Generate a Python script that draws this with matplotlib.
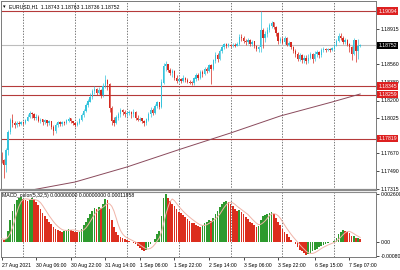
import matplotlib
matplotlib.use("Agg")
import matplotlib.pyplot as plt
import matplotlib.transforms as mtransforms
import numpy as np
import pandas as pd

# EURUSD H1 bars, 27 Aug 2021 14:00 .. 7 Sep 2021 12:00 (open = previous close)
first_open = 1.1765
closes = [
    1.1760, 1.1755, 1.1770, 1.1788, 1.1800, 1.1797, 1.1795, 1.1797, 1.1796, 1.1798,
    1.1797, 1.1800, 1.1804, 1.1807, 1.1806, 1.1803, 1.1804, 1.1800, 1.1801, 1.1798,
    1.1800, 1.1797, 1.1799, 1.1793, 1.1789, 1.1795, 1.1798, 1.1796, 1.1798, 1.1797,
    1.1800, 1.1802, 1.1799, 1.1797, 1.1795, 1.1797, 1.1801, 1.1805, 1.1809, 1.1815,
    1.1819, 1.1824, 1.1829, 1.1831, 1.1827, 1.1830, 1.1825, 1.1834, 1.1840, 1.1836,
    1.1812, 1.1800, 1.1797, 1.1803, 1.1806, 1.1810, 1.1808, 1.1806, 1.1807, 1.1808,
    1.1806, 1.1808, 1.1803, 1.1801, 1.1802, 1.1799, 1.1797, 1.1801, 1.1806, 1.1810,
    1.1807, 1.1814, 1.1818, 1.1813, 1.1838, 1.1854, 1.1856, 1.1850, 1.1847, 1.1849,
    1.1843, 1.1840, 1.1842, 1.1840, 1.1843, 1.1841, 1.1839, 1.1838, 1.1837, 1.1842,
    1.1845, 1.1843, 1.1848, 1.1846, 1.1851, 1.1849, 1.1855, 1.1851, 1.1860, 1.1865,
    1.1862, 1.1869, 1.1873, 1.1876, 1.1874, 1.1876, 1.1875, 1.1876, 1.1875, 1.1877,
    1.1884, 1.1883, 1.1880, 1.1879, 1.1881, 1.1877, 1.1879, 1.1874, 1.1871, 1.1873,
    1.1890, 1.1883, 1.1886, 1.1890, 1.1895, 1.1898, 1.1893, 1.1887, 1.1880, 1.1882,
    1.1879, 1.1883, 1.1876, 1.1878, 1.1873, 1.1869, 1.1866, 1.1862, 1.1865, 1.1861,
    1.1863, 1.1860, 1.1863, 1.1866, 1.1862, 1.1866, 1.1868, 1.1865, 1.1870, 1.1871,
    1.1870, 1.1871, 1.1870, 1.1872, 1.1875, 1.1880, 1.1885, 1.1883, 1.1879, 1.1881,
    1.1876, 1.1873, 1.1866, 1.1880, 1.1869, 1.18743, 1.18752,
]
highs = [
    1.1768, 1.1762, 1.1772, 1.1790, 1.1803, 1.1806, 1.1799, 1.1799, 1.1799, 1.1800,
    1.1799, 1.1802, 1.1806, 1.1809, 1.1808, 1.1807, 1.1806, 1.1805, 1.1803, 1.1802,
    1.1802, 1.1801, 1.1801, 1.1800, 1.1795, 1.1797, 1.1800, 1.1800, 1.1800, 1.1799,
    1.1802, 1.1804, 1.1803, 1.1800, 1.1798, 1.1799, 1.1803, 1.1807, 1.1811, 1.1817,
    1.1822, 1.1827, 1.1831, 1.1834, 1.1832, 1.1833, 1.1831, 1.1837, 1.1845, 1.1842,
    1.1838, 1.1814, 1.1804, 1.1805, 1.1808, 1.1812, 1.1811, 1.1810, 1.1809, 1.1810,
    1.1809, 1.1811, 1.1809, 1.1805, 1.1804, 1.1803, 1.1801, 1.1803, 1.1808, 1.1813,
    1.1812, 1.1816, 1.1820, 1.1819, 1.1842, 1.1858, 1.1860, 1.1857, 1.1852, 1.1851,
    1.1850, 1.1845, 1.1844, 1.1843, 1.1845, 1.1844, 1.1843, 1.1841, 1.1840, 1.1844,
    1.1847, 1.1847, 1.1850, 1.1850, 1.1853, 1.1853, 1.1857, 1.1857, 1.1862, 1.1868,
    1.1867, 1.1871, 1.1876, 1.1878, 1.1878, 1.1878, 1.1877, 1.1878, 1.1878, 1.1879,
    1.1886, 1.1886, 1.1885, 1.1882, 1.1883, 1.1882, 1.1881, 1.1880, 1.1876, 1.1875,
    1.1909, 1.1892, 1.1889, 1.1893, 1.1898, 1.1900, 1.1899, 1.1895, 1.1888, 1.1884,
    1.1884, 1.1885, 1.1884, 1.1880, 1.1879, 1.1874, 1.1871, 1.1868, 1.1867, 1.1866,
    1.1865, 1.1865, 1.1866, 1.1868, 1.1867, 1.1869, 1.1870, 1.1869, 1.1872, 1.1873,
    1.1872, 1.1872, 1.1872, 1.1873, 1.1877, 1.1882, 1.1887, 1.1887, 1.1885, 1.1883,
    1.1882, 1.1878, 1.1875, 1.1883, 1.1881, 1.1882, 1.18763,
]
lows = [
    1.1757, 1.1742, 1.1748, 1.1765, 1.1786, 1.1793, 1.1792, 1.1793, 1.1794, 1.1795,
    1.1795, 1.1796, 1.1799, 1.1803, 1.1803, 1.1801, 1.1801, 1.1798, 1.1797, 1.1795,
    1.1796, 1.1794, 1.1795, 1.1791, 1.1785, 1.1787, 1.1793, 1.1794, 1.1794, 1.1795,
    1.1796, 1.1798, 1.1797, 1.1795, 1.1793, 1.1794, 1.1796, 1.1800, 1.1804, 1.1808,
    1.1813, 1.1818, 1.1822, 1.1826, 1.1825, 1.1826, 1.1823, 1.1824, 1.1832, 1.1830,
    1.1808, 1.1795, 1.1794, 1.1796, 1.1801, 1.1804, 1.1805, 1.1804, 1.1804, 1.1805,
    1.1803, 1.1804, 1.1801, 1.1799, 1.1799, 1.1797, 1.1794, 1.1795, 1.1800, 1.1804,
    1.1805, 1.1806, 1.1812, 1.1811, 1.1812, 1.1836, 1.1849, 1.1848, 1.1845, 1.1844,
    1.1841, 1.1838, 1.1839, 1.1838, 1.1839, 1.1839, 1.1837, 1.1836, 1.1835, 1.1835,
    1.1840, 1.1841, 1.1842, 1.1844, 1.1845, 1.1847, 1.1848, 1.1836, 1.1850, 1.1858,
    1.1859, 1.1861, 1.1867, 1.1871, 1.1872, 1.1873, 1.1873, 1.1873, 1.1873, 1.1874,
    1.1876, 1.1880, 1.1878, 1.1876, 1.1877, 1.1875, 1.1875, 1.1872, 1.1869, 1.1868,
    1.1868, 1.1872, 1.1879, 1.1884, 1.1888, 1.1892, 1.1891, 1.1885, 1.1877, 1.1878,
    1.1877, 1.1877, 1.1874, 1.1874, 1.1871, 1.1867, 1.1864, 1.1860, 1.1860, 1.1858,
    1.1858, 1.1856, 1.1858, 1.1862, 1.1858, 1.1860, 1.1864, 1.1863, 1.1864, 1.1868,
    1.1868, 1.1869, 1.1868, 1.1869, 1.1870, 1.1874, 1.1879, 1.1881, 1.1877, 1.1877,
    1.1874, 1.1868, 1.1861, 1.1865, 1.1859, 1.1862, 1.18736,
]

# MACD_color(5,32,5) main value, in units of 1e-4
macd_e4 = [
    1.5, 1.0, 1.5, 6, 12, 17, 21, 23, 24, 24.5,
    23.5, 23, 22.5, 23, 24, 23.5, 22, 20, 18, 16,
    14, 12.5, 11, 9.5, 8, 7, 6.5, 6, 5.5, 6,
    6.5, 7, 6.5, 6, 5.5, 5, 5.5, 7, 9, 11,
    13, 15, 17, 18.5, 18, 19, 18.5, 21, 23.5, 23,
    18, 12, 8, 5, 3.5, 2.5, 2, 1.5, 1, 0.5,
    -0.5, -1, -1.5, -2.5, -3.5, -4.5, -5.3, -4.5, -3, -1.5,
    0, 1.5, 4, 6, 14, 24, 26, 24, 22.5, 21,
    19.5, 18, 16.5, 15.5, 14.5, 13.5, 12.5, 11.5, 10.5, 10,
    9, 8.5, 8, 9, 10, 11, 12, 11.5, 13, 15,
    17, 19, 21, 22, 22.5, 22, 21, 19.5, 18, 17,
    17.5, 16.5, 15, 13.5, 12.5, 11, 10, 9, 8, 8.5,
    12, 14, 14.5, 15, 16, 16.5, 15, 13, 11, 9,
    7, 5.5, 4, 2.5, 1, -0.5, -1.5, -3, -4.5, -5.5,
    -6.5, -7.5, -7, -6.5, -5.5, -4.5, -4, -3, -2.5, -2,
    -1.5, -1, -0.5, 0, 0.5, 2, 4, 5.5, 6.5, 6,
    5.5, 4.5, 3, 3, 2, 2, 1.19,
]

# long moving average read at a few bars
ma_bars = [0, 14, 34, 58, 83, 106, 129, 153, 166]
ma_vals = [1.1725, 1.17305, 1.17385, 1.17535, 1.17715, 1.17875, 1.18045, 1.18185, 1.18265]

red_levels = [1.19094, 1.18345, 1.18259, 1.17819]
last_price = 1.18752
price_ticks = [1.17315, 1.17490, 1.17670, 1.18025, 1.18200, 1.18380, 1.18560, 1.18915]

day_starts = [10, 34, 58, 82, 106, 130, 154]
label_bars = [0, 16, 32, 48, 64, 80, 96, 112, 128, 145, 161]
label_texts = ["27 Aug 2021", "30 Aug 06:00", "30 Aug 22:00", "31 Aug 14:00", "1 Sep 06:00",
               "1 Sep 22:00", "2 Sep 14:00", "3 Sep 06:00", "3 Sep 22:00", "6 Sep 15:00",
               "7 Sep 07:00"]

header = "EURUSD,H1  1.18743 1.18763 1.18736 1.18752"
macd_header = "MACD_color(5,32,5) 0.00000000 0.00000000 0.00011858"

W, H = 400, 270
FS = 3.7
FONT = "Liberation Sans"
BULL = "#35c3dc"
BEAR = "#d42a20"


def px_box(l, t, r, b):
    return [l / W, 1 - b / H, (r - l) / W, (b - t) / H]


c = np.array(closes)
o = np.concatenate([[first_open], c[:-1]])
hi = np.maximum(np.array(highs), np.maximum(o, c))
lo = np.minimum(np.array(lows), np.minimum(o, c))
x = np.arange(len(c))
up = c >= o

fig = plt.figure(figsize=(W / 100, H / 100), dpi=100)
fig.patch.set_facecolor("white")

ax = fig.add_axes(px_box(1, 1, 376, 190))
ax2 = fig.add_axes(px_box(1, 192, 376, 257), sharex=ax)
xl = ((1 - 1.6) / 2.16, (376 - 1.6) / 2.16)

# main chart
for d in day_starts:
    ax.axvline(d, color="#444444", lw=0.5, ls=(0, (2, 2)), zorder=1)
    ax2.axvline(d, color="#444444", lw=0.5, ls=(0, (2, 2)), zorder=1)
for lv in red_levels:
    ax.axhline(lv, color="#b53a3a", lw=0.8, zorder=1.5)
ax.axhline(last_price, color="#bdbdbd", lw=0.8, zorder=1.4)
ax.plot(ma_bars, ma_vals, color="#8a4a5c", lw=0.7, zorder=1.6)

cols = np.where(up, BULL, BEAR)
ax.vlines(x, lo, hi, colors=cols, lw=0.5, zorder=2)
body = np.maximum(np.abs(c - o), 0.00002)
ax.bar(x, body, bottom=np.minimum(o, c), width=0.62, color=cols, lw=0, zorder=2.1)

ax.set_xlim(*xl)
ax.set_ylim(1.17305, 1.19195)
ax.yaxis.tick_right()
ax.set_yticks(price_ticks)
ax.set_yticklabels(["%.5f" % v for v in price_ticks], fontsize=FS, family=FONT)
ax.tick_params(axis="y", length=2, width=0.5, pad=1.5, colors="black")
ax.tick_params(axis="x", bottom=False, labelbottom=False)
for s in ["left", "top", "right"]:
    ax.spines[s].set_color("#7a7a7a")
    ax.spines[s].set_linewidth(0.7)
ax.spines["bottom"].set_color("#8c8c8c")
ax.spines["bottom"].set_linewidth(1.6)

trans = mtransforms.blended_transform_factory(ax.transAxes, ax.transData)
for lv in red_levels:
    ax.text(1.006, lv, "%.5f" % lv, transform=trans, ha="left", va="center", fontsize=FS,
            family=FONT, color="white", clip_on=False, zorder=5,
            bbox=dict(boxstyle="square,pad=0.25", fc="#dd2020", ec="none"))
ax.text(1.006, last_price, "%.5f" % last_price, transform=trans, ha="left", va="center",
        fontsize=FS, family=FONT, color="white", clip_on=False, zorder=5,
        bbox=dict(boxstyle="square,pad=0.25", fc="black", ec="none"))

ax.text(0.006, 0.985, "\u25be", transform=ax.transAxes, ha="left", va="top",
        fontsize=FS, family="DejaVu Sans", color="black")
ax.text(0.022, 0.985, header, transform=ax.transAxes, ha="left", va="top",
        fontsize=FS, family=FONT, color="black")

# MACD window
m = np.array(macd_e4) * 1e-4
mcol = ["#2e9a2e" if i == 0 or m[i] >= m[i - 1] else "#dc2e1e" for i in range(len(m))]
ax2.bar(x, m, width=0.78, color=mcol, lw=0, zorder=2)
signal = pd.Series(m).rolling(5, min_periods=1).mean()
ax2.plot(x, signal, color="#f0b4a8", lw=0.7, zorder=3)

ax2.set_ylim(-0.000857, 0.002737)
ax2.yaxis.tick_right()
ax2.set_yticks([0.0026005, 0.0, -0.000807])
ax2.set_yticklabels(["0.0026005", "0.00", "-0.000807"], fontsize=FS, family=FONT)
ax2.tick_params(axis="y", length=2, width=0.5, pad=1.5, colors="black")
ax2.set_xticks(label_bars)
ax2.set_xticklabels(label_texts, fontsize=FS, family=FONT, ha="left")
ax2.tick_params(axis="x", length=2, width=0.5, pad=2, colors="black")
for s in ["left", "bottom", "right"]:
    ax2.spines[s].set_color("#7a7a7a")
    ax2.spines[s].set_linewidth(0.7)
ax2.spines["top"].set_color("#8c8c8c")
ax2.spines["top"].set_linewidth(0.8)
ax2.text(0.004, 0.985, macd_header, transform=ax2.transAxes, ha="left", va="top",
         fontsize=FS, family=FONT, color="black")

fig.savefig("out.png", dpi=100, facecolor="white")
